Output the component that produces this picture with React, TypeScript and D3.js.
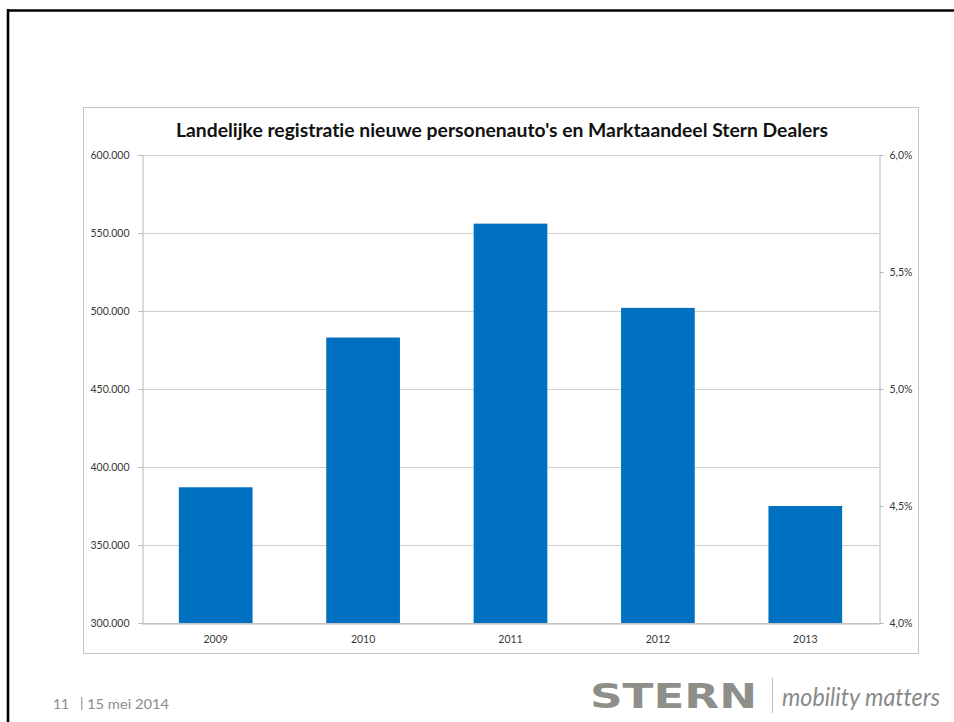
import { useEffect, useRef } from 'react';
import * as d3 from 'd3';

const years = ['2009', '2010', '2011', '2012', '2013'];
const registrations = [387000, 483000, 556000, 502000, 375000];
const leftTicks = [300000, 350000, 400000, 450000, 500000, 550000, 600000];
const rightTicks = [0.04, 0.045, 0.05, 0.055, 0.06];

const title = "Landelijke registratie nieuwe personenauto's en Marktaandeel Stern Dealers";
const footerPage = '11';
const footerDate = '15 mei 2014';

const nl = d3.formatLocale({
  decimal: ',',
  thousands: '.',
  grouping: [3],
  currency: ['€', ''],
});

export default function App() {
  const ref = useRef<SVGSVGElement | null>(null);

  useEffect(() => {
    if (!ref.current) return;
    const svg = d3.select(ref.current);
    svg.selectAll('*').remove();

    const font = 'Lato, "Open Sans", sans-serif';
    const box = { x: 83, y: 107, w: 835, h: 546 };
    const plot = { left: 142, right: 879, top: 155, bottom: 623 };

    const x = d3
      .scaleBand()
      .domain(years)
      .range([plot.left, plot.right])
      .paddingInner(0.5)
      .paddingOuter(0.25);
    const y = d3.scaleLinear().domain([300000, 600000]).range([plot.bottom, plot.top]);
    const y2 = d3.scaleLinear().domain([0.04, 0.06]).range([plot.bottom, plot.top]);

    // slide frame (top and left only)
    svg.append('line')
      .attr('x1', 7).attr('x2', 954).attr('y1', 10.5).attr('y2', 10.5)
      .attr('stroke', '#000').attr('stroke-width', 2.6);
    svg.append('line')
      .attr('x1', 8).attr('x2', 8).attr('y1', 9).attr('y2', 722)
      .attr('stroke', '#000').attr('stroke-width', 2.6);

    // chart box
    svg.append('rect')
      .attr('x', box.x + 0.5).attr('y', box.y + 0.5)
      .attr('width', box.w).attr('height', box.h)
      .attr('fill', '#fff').attr('stroke', '#c4c4c4');

    svg.append('text')
      .attr('x', 176).attr('y', 137)
      .attr('font-family', font).attr('font-weight', 700).attr('font-size', 18)
      .attr('textLength', 652).attr('lengthAdjust', 'spacingAndGlyphs')
      .attr('fill', '#111')
      .text(title);

    // gridlines
    svg.append('g')
      .selectAll('line')
      .data(leftTicks)
      .join('line')
      .attr('x1', plot.left).attr('x2', plot.right)
      .attr('y1', (d) => Math.round(y(d)) + 0.5).attr('y2', (d) => Math.round(y(d)) + 0.5)
      .attr('stroke', '#cfcfcf');

    // bars
    svg.append('g')
      .selectAll('rect')
      .data(years)
      .join('rect')
      .attr('x', (d) => x(d)!)
      .attr('width', x.bandwidth())
      .attr('y', (_d, i) => y(registrations[i]))
      .attr('height', (_d, i) => plot.bottom - y(registrations[i]))
      .attr('fill', '#0070c0');

    const styleAxis = (g: d3.Selection<SVGGElement, unknown, null, undefined>) => {
      g.select('.domain').attr('stroke', '#b5b5b5');
      g.selectAll('.tick line').attr('stroke', '#b5b5b5');
      g.selectAll('.tick text')
        .attr('font-family', font)
        .attr('font-size', 10.5)
        .attr('fill', '#383838');
    };

    svg.append('g')
      .attr('transform', `translate(${plot.left + 0.5},0)`)
      .call(
        d3.axisLeft(y).tickValues(leftTicks).tickSize(4).tickSizeOuter(0).tickPadding(9)
          .tickFormat((d) => nl.format(',.0f')(d as number))
      )
      .call(styleAxis);

    svg.append('g')
      .attr('transform', `translate(${plot.right + 0.5},0)`)
      .call(
        d3.axisRight(y2).tickValues(rightTicks).tickSize(4).tickSizeOuter(0).tickPadding(6)
          .tickFormat((d) => nl.format('.1%')(d as number))
      )
      .call(styleAxis);

    svg.append('g')
      .attr('transform', `translate(0,${plot.bottom + 0.5})`)
      .call(d3.axisBottom(x).tickSize(0).tickPadding(12))
      .call(styleAxis);

    // footer
    const footer = svg.append('g')
      .attr('font-family', font).attr('font-size', 14).attr('fill', '#8c8c8c');
    footer.append('text').attr('x', 53).attr('y', 709).text(footerPage);
    footer.append('text').attr('x', 80).attr('y', 708).text('|');
    footer.append('text').attr('x', 87).attr('y', 709)
      .attr('textLength', 82).attr('lengthAdjust', 'spacingAndGlyphs')
      .text(footerDate);

    svg.append('text')
      .attr('x', 590).attr('y', 708)
      .attr('font-family', '"DejaVu Sans", sans-serif').attr('font-weight', 700)
      .attr('font-size', 33)
      .attr('textLength', 167).attr('lengthAdjust', 'spacingAndGlyphs')
      .attr('fill', '#8e8e8a')
      .text('STERN');
    svg.append('line')
      .attr('x1', 772.5).attr('x2', 772.5).attr('y1', 678).attr('y2', 713)
      .attr('stroke', '#bdbdbd');
    svg.append('text')
      .attr('x', 782).attr('y', 706)
      .attr('font-family', font).attr('font-style', 'italic')
      .attr('font-size', 25)
      .attr('textLength', 158).attr('lengthAdjust', 'spacingAndGlyphs')
      .attr('fill', '#8a8a8a')
      .text('mobility matters');
  }, []);

  return (
    <svg
      ref={ref}
      width={954}
      height={722}
      viewBox="0 0 954 722"
      style={{
        position: 'absolute',
        left: 0,
        top: 0,
        background: '#fff',
        fontVariantLigatures: 'none',
      }}
    />
  );
}
